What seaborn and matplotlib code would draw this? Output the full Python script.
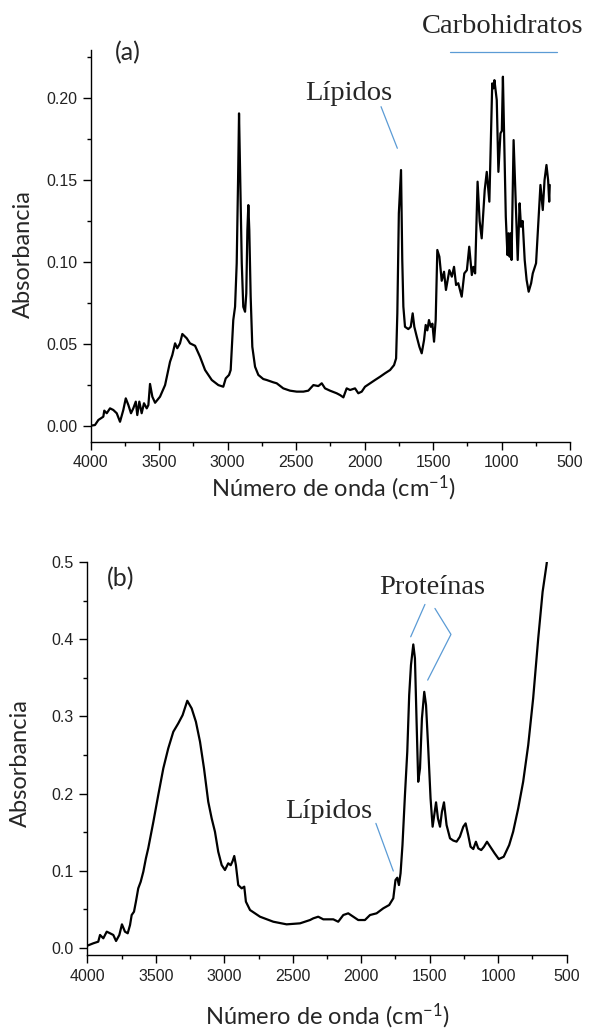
import matplotlib
matplotlib.use("Agg")
import matplotlib.pyplot as plt
import numpy as np
import pandas as pd
import seaborn as sns
from matplotlib.ticker import MultipleLocator, FormatStrFormatter

# ---------------- spectrum (a) ----------------
wn_a = [4000, 3969, 3944, 3908, 3901, 3883, 3859, 3835, 3810, 3786, 3762, 3744,
        3725, 3706, 3689, 3671, 3660, 3645, 3628, 3611, 3591, 3579, 3567, 3550,
        3530, 3494, 3457, 3421, 3404, 3384, 3368, 3348, 3331, 3299, 3275, 3238,
        3202, 3165, 3116, 3068, 3032, 3014, 2990, 2978, 2959, 2946, 2934, 2924,
        2917, 2908, 2897, 2886, 2873, 2864, 2856, 2849, 2842, 2832, 2820, 2800,
        2776, 2740, 2715, 2667, 2642, 2594, 2545, 2496, 2447, 2411, 2374, 2338,
        2313, 2289, 2253, 2204, 2179, 2155, 2131, 2106, 2070, 2046, 2021, 1997,
        1960, 1924, 1887, 1851, 1814, 1785, 1770, 1761, 1750, 1734, 1725, 1717,
        1705, 1681, 1663, 1649, 1637, 1619, 1600, 1583, 1566, 1554, 1542, 1530,
        1517, 1505, 1493, 1481, 1469, 1454, 1437, 1420, 1406, 1381, 1363, 1347,
        1332, 1316, 1291, 1272, 1253, 1236, 1217, 1206, 1193, 1175, 1160, 1145,
        1123, 1108, 1089, 1068, 1060, 1052, 1035, 1023, 1008, 998, 990, 979,
        969, 957, 949, 941, 934, 927, 912, 897, 882, 868, 858, 846,
        831, 817, 802, 784, 772, 748, 716, 699, 686, 672, 660, 652, 648]
abs_a = [0.0000, 0.0004, 0.0035, 0.0055, 0.0092, 0.0076, 0.0106, 0.0096, 0.0076, 0.0024, 0.0096, 0.0167,
         0.0126, 0.0076, 0.0106, 0.0147, 0.0065, 0.0147, 0.0076, 0.0137, 0.0106, 0.0126, 0.0255, 0.0177,
         0.0140, 0.0177, 0.0248, 0.0390, 0.0432, 0.0503, 0.0473, 0.0503, 0.0560, 0.0534, 0.0503, 0.0488,
         0.0421, 0.0340, 0.0279, 0.0248, 0.0238, 0.0289, 0.0310, 0.0340, 0.0645, 0.0726, 0.0991, 0.1500,
         0.1907, 0.1500, 0.0991, 0.0726, 0.0696, 0.0808, 0.1195, 0.1347, 0.1195, 0.0788, 0.0482, 0.0360,
         0.0310, 0.0285, 0.0279, 0.0265, 0.0259, 0.0228, 0.0214, 0.0208, 0.0208, 0.0214, 0.0248, 0.0242,
         0.0259, 0.0228, 0.0214, 0.0198, 0.0187, 0.0173, 0.0228, 0.0218, 0.0228, 0.0198, 0.0208, 0.0238,
         0.0259, 0.0279, 0.0299, 0.0320, 0.0340, 0.0370, 0.0411, 0.0686, 0.1297, 0.1561, 0.1012, 0.0727,
         0.0604, 0.0590, 0.0604, 0.0686, 0.0604, 0.0543, 0.0482, 0.0442, 0.0523, 0.0615, 0.0582, 0.0645,
         0.0604, 0.0623, 0.0513, 0.0645, 0.1073, 0.1032, 0.0885, 0.0940, 0.0829, 0.0950, 0.0910, 0.0970,
         0.0859, 0.0870, 0.0788, 0.0930, 0.0950, 0.1093, 0.0920, 0.0970, 0.0930, 0.1490, 0.1250, 0.1144,
         0.1439, 0.1550, 0.1368, 0.2090, 0.2060, 0.2110, 0.1988, 0.1550, 0.1785, 0.1800, 0.2131, 0.1683,
         0.1276, 0.1042, 0.1175, 0.1032, 0.1175, 0.1012, 0.1744, 0.1378, 0.1012, 0.1358, 0.1215, 0.1250,
         0.1012, 0.0890, 0.0818, 0.0870, 0.0930, 0.0992, 0.1470, 0.1317, 0.1500, 0.1592, 0.1500, 0.1368, 0.1470]

# ---------------- spectrum (b) ----------------
wn_b = [4000, 3956, 3920, 3907, 3883, 3858, 3834, 3810, 3790, 3766, 3747, 3725,
        3705, 3688, 3676, 3659, 3645, 3628, 3610, 3591, 3572, 3555, 3518, 3482,
        3445, 3409, 3372, 3336, 3304, 3270, 3238, 3207, 3177, 3148, 3117, 3092,
        3068, 3044, 3019, 2995, 2971, 2953, 2939, 2927, 2915, 2898, 2873, 2854,
        2842, 2812, 2739, 2642, 2545, 2447, 2374, 2350, 2314, 2277, 2204, 2168,
        2131, 2095, 2058, 2022, 1973, 1936, 1888, 1839, 1796, 1766, 1750, 1737,
        1725, 1713, 1699, 1681, 1664, 1650, 1637, 1620, 1608, 1596, 1584, 1571,
        1557, 1540, 1527, 1511, 1494, 1479, 1467, 1454, 1440, 1425, 1411, 1396,
        1377, 1352, 1328, 1304, 1280, 1255, 1238, 1219, 1202, 1182, 1163, 1146,
        1124, 1104, 1082, 1058, 1026, 996, 960, 920, 891, 854, 818, 781,
        745, 708, 676, 647, 640]
abs_b = [0.0026, 0.0057, 0.0078, 0.0165, 0.0122, 0.0208, 0.0187, 0.0165, 0.0087, 0.0165, 0.0303, 0.0208,
         0.0187, 0.0294, 0.0424, 0.0467, 0.0597, 0.0770, 0.0856, 0.0986, 0.1160, 0.1290, 0.1630, 0.1980,
         0.2327, 0.2586, 0.2802, 0.2910, 0.3018, 0.3204, 0.3105, 0.2931, 0.2672, 0.2327, 0.1894, 0.1678,
         0.1505, 0.1245, 0.1073, 0.1008, 0.1095, 0.1070, 0.1124, 0.1190, 0.1070, 0.0813, 0.0770, 0.0792,
         0.0597, 0.0489, 0.0402, 0.0337, 0.0303, 0.0316, 0.0359, 0.0381, 0.0402, 0.0368, 0.0368, 0.0337,
         0.0424, 0.0446, 0.0402, 0.0359, 0.0359, 0.0424, 0.0446, 0.0511, 0.0554, 0.0641, 0.0878, 0.0908,
         0.0813, 0.0965, 0.1332, 0.1980, 0.2542, 0.3278, 0.3667, 0.3935, 0.3754, 0.2931, 0.2153, 0.2327,
         0.2975, 0.3320, 0.3148, 0.2586, 0.1938, 0.1570, 0.1721, 0.1886, 0.1678, 0.1570, 0.1764, 0.1886,
         0.1591, 0.1419, 0.1390, 0.1376, 0.1440, 0.1570, 0.1613, 0.1462, 0.1310, 0.1280, 0.1375, 0.1289,
         0.1267, 0.1310, 0.1375, 0.1310, 0.1224, 0.1150, 0.1180, 0.1332, 0.1505, 0.1808, 0.2153, 0.2629,
         0.3235, 0.4013, 0.4617, 0.4973, 0.5080]

sns.set_theme(style="ticks")
plt.rcParams.update({
    "font.family": ["Liberation Sans", "DejaVu Sans"],
    "mathtext.fontset": "custom",
    "mathtext.rm": "Lato",
    "mathtext.it": "Lato:italic",
    "mathtext.bf": "Lato:bold",
    "axes.facecolor": "white",
    "figure.facecolor": "white",
})

fig = plt.figure(figsize=(5.91, 10.29), dpi=100)
ax_a = fig.add_axes([0.1535, 0.5707, 0.8110, 0.3807])
ax_b = fig.add_axes([0.1477, 0.0719, 0.8112, 0.3816])

df_a = pd.DataFrame({"wn": wn_a, "absorb": abs_a})
df_b = pd.DataFrame({"wn": wn_b, "absorb": abs_b})
sns.lineplot(data=df_a, x="wn", y="absorb", ax=ax_a, color="black",
             linewidth=1.6, estimator=None, sort=False)
sns.lineplot(data=df_b, x="wn", y="absorb", ax=ax_b, color="black",
             linewidth=1.6, estimator=None, sort=False)


def style_axis(ax, ylim, ymajor, yminor, yfmt):
    ax.set_xlim(4000, 500)
    ax.set_ylim(*ylim)
    ax.xaxis.set_major_locator(MultipleLocator(500))
    ax.xaxis.set_minor_locator(MultipleLocator(250))
    ax.yaxis.set_major_locator(MultipleLocator(ymajor))
    ax.yaxis.set_minor_locator(MultipleLocator(yminor))
    ax.xaxis.set_major_formatter(FormatStrFormatter("%d"))
    ax.yaxis.set_major_formatter(FormatStrFormatter(yfmt))
    for side in ("top", "right"):
        ax.spines[side].set_visible(False)
    for side in ("left", "bottom"):
        ax.spines[side].set_linewidth(1.0)
        ax.spines[side].set_color("black")
    ax.tick_params(which="major", direction="out", length=5.8, width=1.0,
                   color="black", labelsize=11.5, labelcolor="#222222", pad=4)
    ax.tick_params(which="minor", direction="out", length=3.0, width=1.0,
                   color="black")
    ax.set_xlabel("")
    ax.set_ylabel("")
    ax.grid(False)


style_axis(ax_a, (-0.0098, 0.2294), 0.05, 0.025, "%.2f")
style_axis(ax_b, (-0.0095, 0.5), 0.1, 0.05, "%.1f")

blue = "#5B9BD5"
serif = {"family": "Liberation Serif", "size": 20.5}
sans_lbl = {"family": "Lato", "size": 18}

# panel (a) annotations
ax_a.text(3728, 0.2275, "(a)", ha="center", va="center", fontdict=sans_lbl)
ax_a.text(2117, 0.1988, "Lípidos", ha="center", va="baseline", fontdict=serif)
ax_a.plot([1880, 1761], [0.1948, 0.1694], color=blue, lw=0.9, clip_on=False)
ax_a.text(989, 0.2396, "Carbohidratos", ha="center", va="baseline", fontdict=serif,
          clip_on=False)
ax_a.plot([1376, 597], [0.2283, 0.2283], color=blue, lw=0.9, clip_on=False)

# panel (b) annotations
ax_b.text(3754, 0.479, "(b)", ha="center", va="center", fontdict=sans_lbl)
ax_b.text(1483, 0.4584, "Proteínas", ha="center", va="baseline", fontdict=serif)
ax_b.plot([1535, 1639], [0.4454, 0.4034], color=blue, lw=0.9, clip_on=False)
ax_b.plot([1462, 1345, 1515], [0.4402, 0.4065, 0.3472], color=blue, lw=0.9,
          clip_on=False)
ax_b.text(2241, 0.1678, "Lípidos", ha="center", va="baseline", fontdict=serif)
ax_b.plot([1893, 1766], [0.1613, 0.0995], color=blue, lw=0.9, clip_on=False)

# axis titles
xlab = "Número de onda (cm$^{-1}$)"
fig.text(23.5 / 591, 1 - 254 / 1029, "Absorbancia", rotation=90, ha="center",
         va="center", family="Lato", size=17)
fig.text(333.3 / 591, 1 - 496.5 / 1029, xlab, ha="center", va="baseline",
         family="Lato", size=17)
fig.text(20.5 / 591, 1 - 763 / 1029, "Absorbancia", rotation=90, ha="center",
         va="center", family="Lato", size=17)
fig.text(327 / 591, 1 - 1024 / 1029, xlab, ha="center", va="baseline",
         family="Lato", size=17)

fig.savefig("out.png", dpi=100)
